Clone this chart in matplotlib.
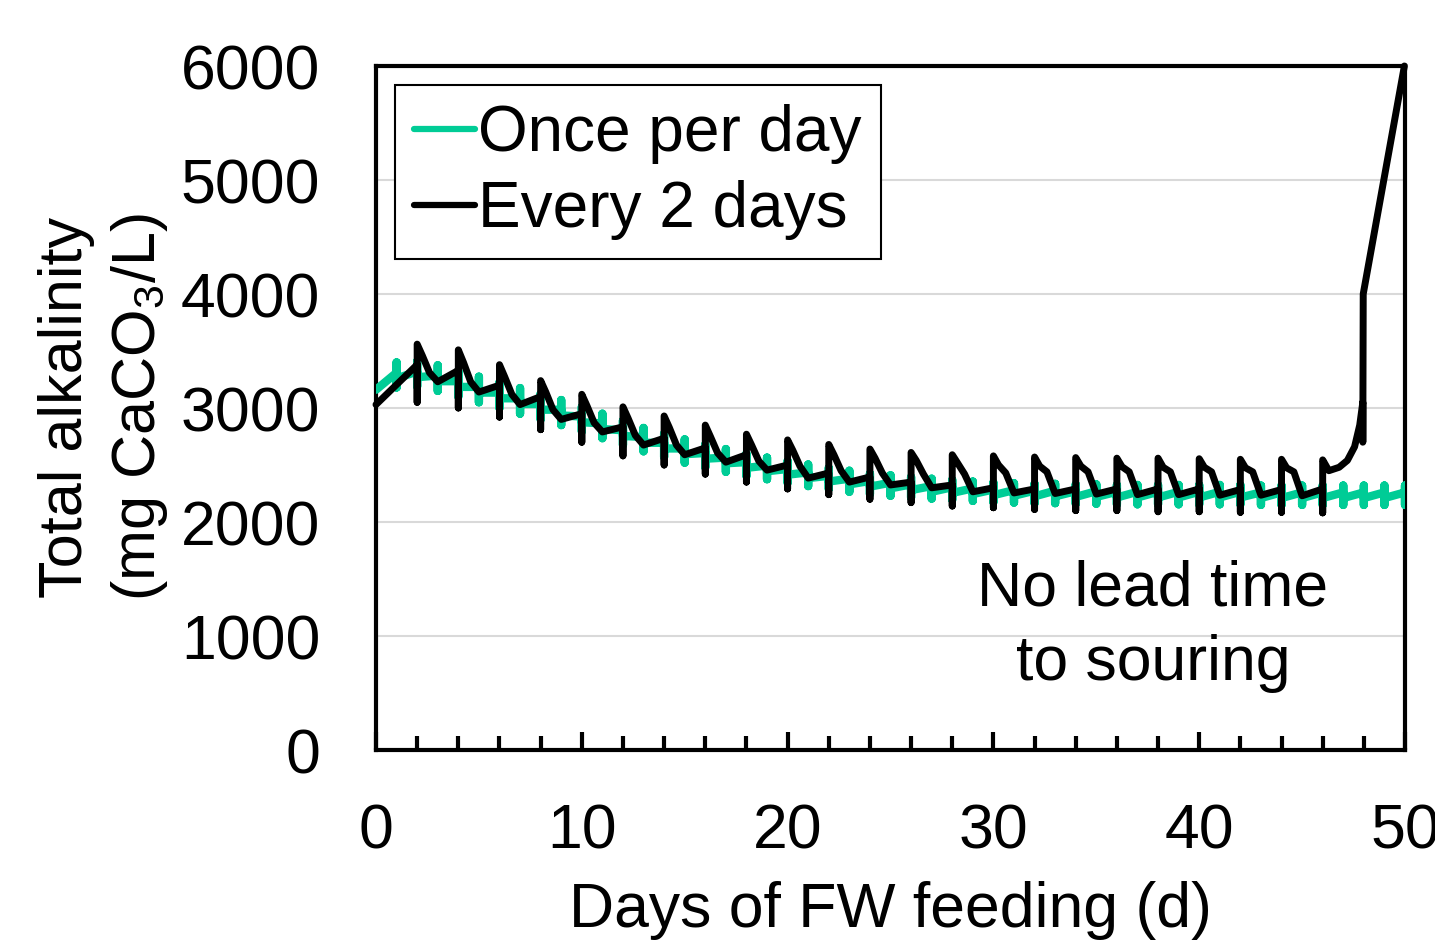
import matplotlib
matplotlib.use("Agg")
import matplotlib.pyplot as plt
from matplotlib.ticker import MultipleLocator

plt.rcParams['font.family'] = ['Liberation Sans', 'DejaVu Sans']
plt.rcParams['mathtext.fontset'] = 'custom'
plt.rcParams['mathtext.rm'] = 'Liberation Sans'

# Once per day feeding: value before feed, spike low/high, value after feed (day 1..50)
green_start = 3160
green_pre = [3310, 3320, 3285, 3235, 3185, 3135, 3085, 3035, 2985, 2925,
             2865, 2805, 2745, 2695, 2645, 2605, 2565, 2525, 2495, 2465,
             2435, 2405, 2380, 2360, 2345, 2330, 2315, 2305, 2295, 2285,
             2280, 2275, 2275, 2270, 2270, 2265, 2265, 2265, 2265, 2265,
             2265, 2265, 2260, 2260, 2260, 2260, 2260, 2260, 2260, 2260]
green_low = [3180, 3190, 3150, 3100, 3050, 3000, 2950, 2900, 2850, 2795,
             2735, 2675, 2620, 2570, 2520, 2480, 2440, 2405, 2375, 2345,
             2315, 2290, 2265, 2245, 2230, 2215, 2205, 2195, 2185, 2175,
             2170, 2165, 2165, 2160, 2160, 2155, 2155, 2155, 2155, 2155,
             2155, 2155, 2150, 2150, 2150, 2150, 2150, 2150, 2150, 2150]
green_high = [3400, 3410, 3375, 3325, 3275, 3225, 3175, 3125, 3070, 3010,
              2950, 2890, 2825, 2775, 2725, 2680, 2640, 2600, 2565, 2535,
              2505, 2475, 2450, 2425, 2410, 2395, 2380, 2370, 2355, 2345,
              2340, 2335, 2335, 2330, 2330, 2325, 2325, 2325, 2325, 2325,
              2325, 2325, 2320, 2320, 2320, 2320, 2320, 2320, 2320, 2320]
green_post = [3260, 3270, 3235, 3185, 3135, 3085, 3035, 2985, 2935, 2875,
              2815, 2755, 2695, 2645, 2595, 2555, 2515, 2475, 2445, 2415,
              2385, 2355, 2330, 2310, 2295, 2280, 2265, 2255, 2245, 2235,
              2230, 2225, 2225, 2220, 2220, 2215, 2215, 2215, 2215, 2215,
              2215, 2215, 2210, 2210, 2210, 2210, 2210, 2210, 2210, 2210]

# Every 2 days feeding (days 2..44): pre, low, high, after 0.25 d, after 0.6 d, after 1 d
black_start = 3030
black_days = list(range(2, 46, 2))
black_pre = [3380, 3330, 3200, 3100, 2950, 2835, 2735, 2650, 2590, 2500, 2430,
             2395, 2350, 2325, 2300, 2290, 2290, 2290, 2290, 2290, 2285, 2285]
black_low = [3050, 3000, 2920, 2810, 2700, 2580, 2500, 2420, 2350, 2290, 2240,
             2200, 2170, 2140, 2125, 2110, 2100, 2100, 2090, 2090, 2085, 2085]
black_high = [3560, 3510, 3380, 3240, 3120, 3010, 2930, 2850, 2770, 2720, 2680,
              2640, 2610, 2590, 2580, 2570, 2565, 2560, 2560, 2555, 2550, 2550]
black_v1 = [3460, 3400, 3275, 3140, 3020, 2910, 2830, 2750, 2675, 2630, 2590,
            2560, 2540, 2520, 2500, 2490, 2490, 2485, 2480, 2480, 2475, 2475]
black_v2 = [3310, 3230, 3120, 2985, 2870, 2760, 2675, 2605, 2535, 2490, 2450,
            2430, 2420, 2420, 2430, 2440, 2440, 2440, 2440, 2440, 2440, 2440]
black_knee = [3230, 3140, 3030, 2900, 2790, 2675, 2590, 2525, 2455, 2385, 2350,
              2325, 2300, 2265, 2255, 2250, 2245, 2240, 2240, 2235, 2235, 2230]
# last feed (day 46) and souring tail
tail_days = [46, 46, 46, 46.3, 46.8, 47.2, 47.55, 47.8, 47.95, 47.95, 47.97, 49.97]
tail_vals = [2290, 2080, 2545, 2450, 2480, 2540, 2660, 2850, 3050, 2700, 4000, 6000]

gx, gy = [0], [green_start]
for i in range(len(green_pre)):
    d = i + 1
    gx += [d, d, d, d]
    gy += [green_pre[i], green_low[i], green_high[i], green_post[i]]

bx, by = [0], [black_start]
for i, d in enumerate(black_days):
    bx += [d, d, d, d + 0.25, d + 0.6, d + 1.0]
    by += [black_pre[i], black_low[i], black_high[i], black_v1[i], black_v2[i], black_knee[i]]
bx += tail_days
by += tail_vals

fig = plt.figure(figsize=(14.35, 9.41), dpi=100)
ax = fig.add_axes([376 / 1435, 191 / 941, 1029 / 1435, 684 / 941])

ax.plot(gx, gy, color='#00CC96', lw=6, solid_joinstyle='round', solid_capstyle='round',
        label='Once per day', zorder=3)
ax.plot(bx, by, color='black', lw=5, solid_joinstyle='round', solid_capstyle='round',
        label='Every 2 days', zorder=4, clip_on=False)

ax.set_xlim(0, 50)
ax.set_ylim(0, 6000)
ax.yaxis.set_major_locator(MultipleLocator(1000))
ax.xaxis.set_major_locator(MultipleLocator(10))
ax.xaxis.set_minor_locator(MultipleLocator(2))
ax.grid(axis='y', color='#d9d9d9', lw=1.5, zorder=0)
ax.set_axisbelow(True)

for s in ax.spines.values():
    s.set_linewidth(3)
ax.tick_params(axis='x', which='major', direction='in', length=13, width=3, pad=38, labelsize=45)
ax.tick_params(axis='x', which='minor', direction='in', length=10, width=3)
ax.tick_params(axis='y', length=0, pad=40, labelsize=45)

ax.set_xlabel('Days of FW feeding (d)', fontsize=45, labelpad=14)
fig.text(104 / 1435, 1 - 407 / 941, 'Total alkalinity\n(mg CaCO$_3$/L)', rotation=90,
         ha='center', va='center', fontsize=44, linespacing=1.3)

ax.text(37.75, 1085, 'No lead time\nto souring', ha='center', va='center', fontsize=45,
        linespacing=1.35)

leg = ax.legend(loc='upper left', fontsize=46, frameon=True, fancybox=False,
                handlelength=0.95, handletextpad=0.05, borderaxespad=0.3,
                labelspacing=0.25, borderpad=0.3)
leg.get_frame().set_edgecolor('black')
leg.get_frame().set_linewidth(1.5)
leg.get_frame().set_alpha(1)
for h in leg.get_lines():
    h.set_linewidth(4.5)

fig.savefig('out.png', dpi=100)
